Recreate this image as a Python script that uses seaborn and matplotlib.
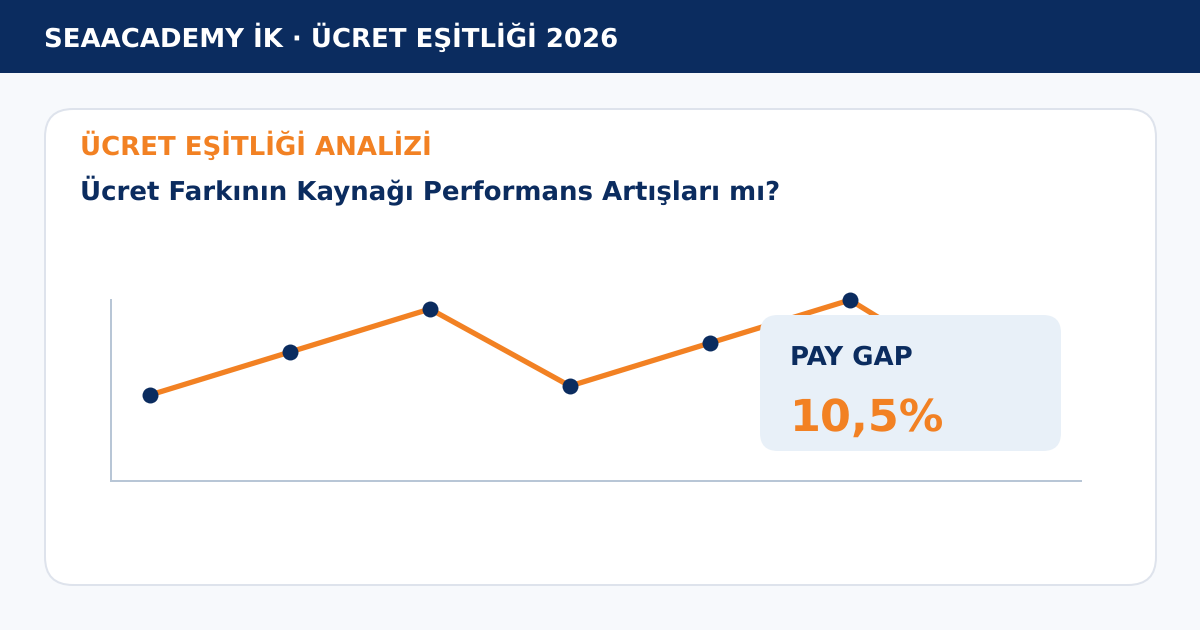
import matplotlib
matplotlib.use("Agg")
import matplotlib.pyplot as plt
from matplotlib.patches import FancyBboxPatch, Rectangle
import pandas as pd
import seaborn as sns

W, H = 1200, 630

NAVY = "#0B2C5F"
ORANGE = "#F28123"
BG = "#F7F9FC"
CARD_EDGE = "#DEE3EC"
BOX = "#E8F0F8"
AXIS = "#B8C6D6"

# values, the last one sits behind the box
periods = [0, 1, 2, 3, 4, 5, 6]
pay_gap = [85, 128, 171, 94, 137, 180, 94]

header_text = "SEAACADEMY İK · ÜCRET EŞİTLİĞİ 2026"
kicker_text = "ÜCRET EŞİTLİĞİ ANALİZİ"
title_text = "Ücret Farkının Kaynağı Performans Artışları mı?"
box_label = "PAY GAP"
box_value = "10,5%"

sns.set_theme(style="white")
plt.rcParams["font.family"] = ["DejaVu Sans"]
plt.rcParams["font.weight"] = "bold"
plt.rcParams["text.hinting"] = "no_hinting"

df = pd.DataFrame({"period": periods, "gap": pay_gap})


def pixel_axes(fig, zorder):
    # full figure axes in image pixels, y going down
    ax = fig.add_axes([0, 0, 1, 1], zorder=zorder)
    ax.set_xlim(0, W)
    ax.set_ylim(H, 0)
    ax.set_axis_off()
    ax.patch.set_alpha(0)
    return ax


def round_box(ax, x0, y0, x1, y1, r, **kw):
    ax.add_patch(FancyBboxPatch((x0 + r, y0 + r), x1 - x0 - 2 * r, y1 - y0 - 2 * r,
                                boxstyle="round,pad=%d,rounding_size=%d" % (r, r), **kw))


fig = plt.figure(figsize=(W / 100, H / 100), dpi=100, facecolor=BG)

back = pixel_axes(fig, 0)
back.add_patch(Rectangle((0, 0), W, 73, color=NAVY, lw=0))
round_box(back, 45, 109, 1156, 585, 28, fc="white", ec=CARD_EDGE, lw=1.44)
back.text(44, 47, header_text, color="white", fontsize=18.7, va="baseline")
back.text(80, 155, kicker_text, color=ORANGE, fontsize=18.7, va="baseline")
back.text(80, 199.5, title_text, color=NAVY, fontsize=18.7, va="baseline")

# chart area, spines centred on 111px and 481px
ax = fig.add_axes([111 / W, 1 - 481 / H, 970 / W, 181 / H], zorder=1)
ax.patch.set_alpha(0)
sns.lineplot(data=df, x="period", y="gap", color=ORANGE, linewidth=3.8, ax=ax, clip_on=False)
sns.scatterplot(data=df, x="period", y="gap", color=NAVY, s=132, linewidth=0, ax=ax,
                clip_on=False, zorder=3)
ax.set_xlim(-39 / 140, 931 / 140)
ax.set_ylim(-1, 180)
ax.set_xticks([])
ax.set_yticks([])
ax.set_xlabel("")
ax.set_ylabel("")
sns.despine(ax=ax)
for side in ["left", "bottom"]:
    ax.spines[side].set_color(AXIS)
    ax.spines[side].set_linewidth(1.44)

front = pixel_axes(fig, 2)
round_box(front, 760, 315, 1061, 451, 18, fc=BOX, ec="none", lw=0)
front.text(790, 365, box_label, color=NAVY, fontsize=18.7, va="baseline")
front.text(790, 431, box_value, color=ORANGE, fontsize=32, va="baseline")

fig.savefig("out.png", dpi=100, facecolor=BG)
